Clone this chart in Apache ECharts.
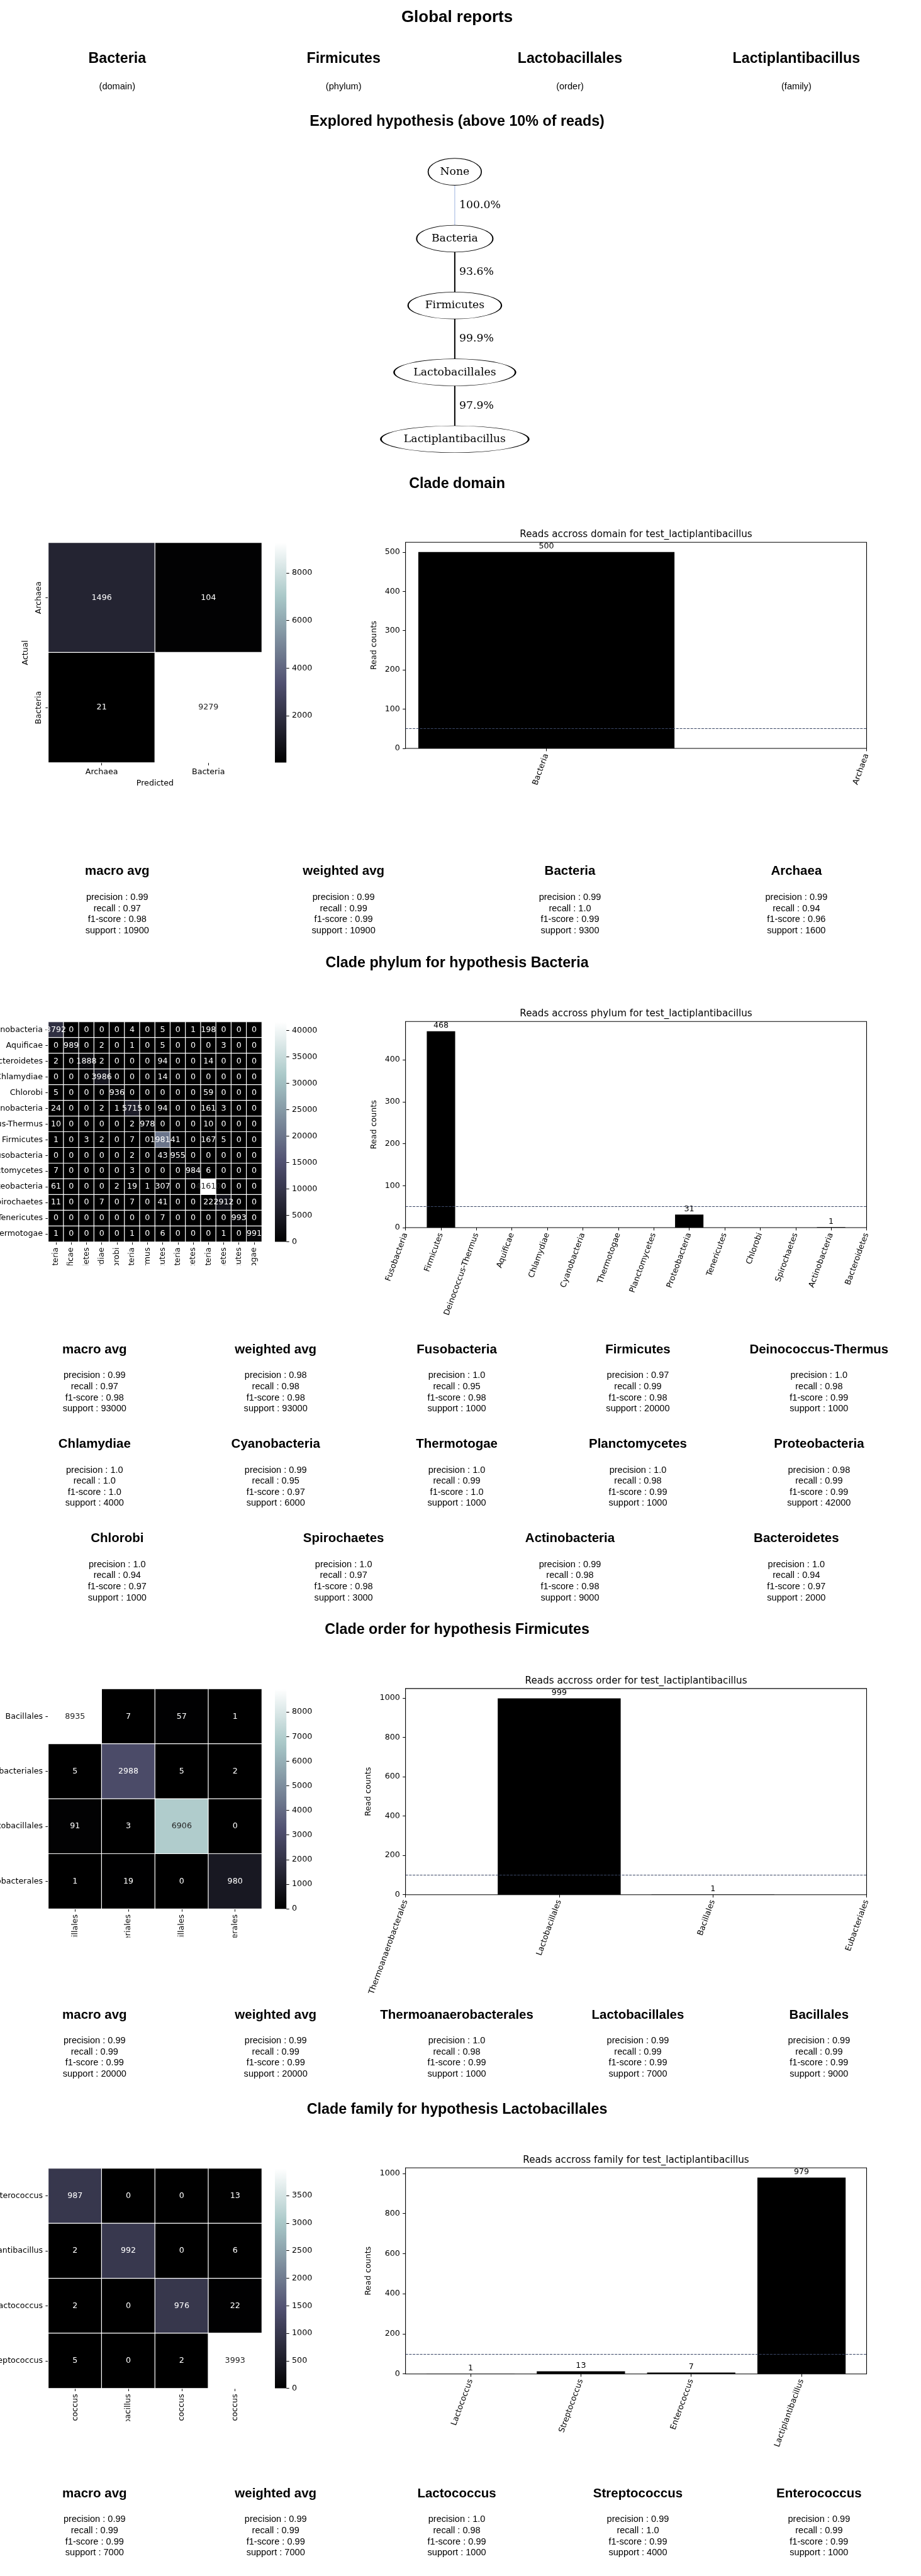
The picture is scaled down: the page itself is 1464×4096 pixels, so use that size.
<!DOCTYPE html>
<html>
<head>
<meta charset="utf-8">
<title>Global reports</title>
<script src="https://cdn.jsdelivr.net/npm/echarts@6.0.0/dist/echarts.min.js"></script>
<style>
  html, body { margin:0; padding:0; background:#ffffff; }
  #page { position:relative; width:1464px; height:4096px; overflow:hidden; background:#fff; }
  .chart { position:absolute; }
</style>
</head>
<body>
<div id="page">
  <div id="main" class="chart" style="left:0;top:0;width:1464px;height:4096px;"></div>
  <div id="hm0" class="chart"></div>
  <div id="hm1" class="chart"></div>
  <div id="hm2" class="chart"></div>
  <div id="hm3" class="chart"></div>
</div>
<script>
// ===================== DATA =====================
const globalTitle = 'Global reports';
const headerNames = ['Bacteria', 'Firmicutes', 'Lactobacillales', 'Lactiplantibacillus'];
const headerRanks = ['(domain)', '(phylum)', '(order)', '(family)'];
const hypothesisTitle = 'Explored hypothesis (above 10% of reads)';
const treeNodes = ['None', 'Bacteria', 'Firmicutes', 'Lactobacillales', 'Lactiplantibacillus'];
const treeEdgeLabels = ['100.0%', '93.6%', '99.9%', '97.9%'];
const sectionTitles = ['Clade domain', 'Clade phylum for hypothesis Bacteria', 'Clade order for hypothesis Firmicutes', 'Clade family for hypothesis Lactobacillales'];
const barTitles = ['Reads accross domain for test_lactiplantibacillus', 'Reads accross phylum for test_lactiplantibacillus', 'Reads accross order for test_lactiplantibacillus', 'Reads accross family for test_lactiplantibacillus'];
const barYName = 'Read counts';

// ---- domain ----
const domainLabels = ['Archaea', 'Bacteria'];
const domainMatrix = [[1496, 104], [21, 9279]];
const domainColorbarTicks = [2000, 4000, 6000, 8000];
const domainBarCats = ['Bacteria', 'Archaea'];
const domainBarVals = [500, 0];
const domainBarTicks = [0, 100, 200, 300, 400, 500];
const domainThreshold = 50;
const domainMetricNames = ['macro avg', 'weighted avg', 'Bacteria', 'Archaea'];
const domainPrecision = ['0.99', '0.99', '0.99', '0.99'];
const domainRecall = ['0.97', '0.99', '1.0', '0.94'];
const domainF1 = ['0.98', '0.99', '0.99', '0.96'];
const domainSupport = ['10900', '10900', '9300', '1600'];

// ---- phylum ----
const phylumLabels = ['Actinobacteria', 'Aquificae', 'Bacteroidetes', 'Chlamydiae', 'Chlorobi', 'Cyanobacteria', 'Deinococcus-Thermus', 'Firmicutes', 'Fusobacteria', 'Planctomycetes', 'Proteobacteria', 'Spirochaetes', 'Tenericutes', 'Thermotogae'];
const phylumMatrix = [
  [8792, 0, 0, 0, 0, 4, 0, 5, 0, 1, 198, 0, 0, 0],
  [0, 989, 0, 2, 0, 1, 0, 5, 0, 0, 0, 3, 0, 0],
  [2, 0, 1888, 2, 0, 0, 0, 94, 0, 0, 14, 0, 0, 0],
  [0, 0, 0, 3986, 0, 0, 0, 14, 0, 0, 0, 0, 0, 0],
  [5, 0, 0, 0, 936, 0, 0, 0, 0, 0, 59, 0, 0, 0],
  [24, 0, 0, 2, 1, 5715, 0, 94, 0, 0, 161, 3, 0, 0],
  [10, 0, 0, 0, 0, 2, 978, 0, 0, 0, 10, 0, 0, 0],
  [1, 0, 3, 2, 0, 7, 0, 19814, 1, 0, 167, 5, 0, 0],
  [0, 0, 0, 0, 0, 2, 0, 43, 955, 0, 0, 0, 0, 0],
  [7, 0, 0, 0, 0, 3, 0, 0, 0, 984, 6, 0, 0, 0],
  [61, 0, 0, 0, 2, 19, 1, 307, 0, 0, 41610, 0, 0, 0],
  [11, 0, 0, 7, 0, 7, 0, 41, 0, 0, 22, 2912, 0, 0],
  [0, 0, 0, 0, 0, 0, 0, 7, 0, 0, 0, 0, 993, 0],
  [1, 0, 0, 0, 0, 1, 0, 6, 0, 0, 0, 1, 0, 991]
];
const phylumColorbarTicks = [0, 5000, 10000, 15000, 20000, 25000, 30000, 35000, 40000];
const phylumBarCats = ['Fusobacteria', 'Firmicutes', 'Deinococcus-Thermus', 'Aquificae', 'Chlamydiae', 'Cyanobacteria', 'Thermotogae', 'Planctomycetes', 'Proteobacteria', 'Tenericutes', 'Chlorobi', 'Spirochaetes', 'Actinobacteria', 'Bacteroidetes'];
const phylumBarVals = [0, 468, 0, 0, 0, 0, 0, 0, 31, 0, 0, 0, 1, 0];
const phylumBarTicks = [0, 100, 200, 300, 400];
const phylumThreshold = 50;
const phylumMetricNames = ['macro avg', 'weighted avg', 'Fusobacteria', 'Firmicutes', 'Deinococcus-Thermus', 'Chlamydiae', 'Cyanobacteria', 'Thermotogae', 'Planctomycetes', 'Proteobacteria', 'Chlorobi', 'Spirochaetes', 'Actinobacteria', 'Bacteroidetes'];
const phylumPrecision = ['0.99', '0.98', '1.0', '0.97', '1.0', '1.0', '0.99', '1.0', '1.0', '0.98', '1.0', '1.0', '0.99', '1.0'];
const phylumRecall = ['0.97', '0.98', '0.95', '0.99', '0.98', '1.0', '0.95', '0.99', '0.98', '0.99', '0.94', '0.97', '0.98', '0.94'];
const phylumF1 = ['0.98', '0.98', '0.98', '0.98', '0.99', '1.0', '0.97', '1.0', '0.99', '0.99', '0.97', '0.98', '0.98', '0.97'];
const phylumSupport = ['93000', '93000', '1000', '20000', '1000', '4000', '6000', '1000', '1000', '42000', '1000', '3000', '9000', '2000'];

// ---- order ----
const orderLabels = ['Bacillales', 'Eubacteriales', 'Lactobacillales', 'Thermoanaerobacterales'];
const orderMatrix = [[8935, 7, 57, 1], [5, 2988, 5, 2], [91, 3, 6906, 0], [1, 19, 0, 980]];
const orderColorbarTicks = [0, 1000, 2000, 3000, 4000, 5000, 6000, 7000, 8000];
const orderBarCats = ['Thermoanaerobacterales', 'Lactobacillales', 'Bacillales', 'Eubacteriales'];
const orderBarVals = [0, 999, 1, 0];
const orderBarTicks = [0, 200, 400, 600, 800, 1000];
const orderThreshold = 100;
const orderMetricNames = ['macro avg', 'weighted avg', 'Thermoanaerobacterales', 'Lactobacillales', 'Bacillales'];
const orderPrecision = ['0.99', '0.99', '1.0', '0.99', '0.99'];
const orderRecall = ['0.99', '0.99', '0.98', '0.99', '0.99'];
const orderF1 = ['0.99', '0.99', '0.99', '0.99', '0.99'];
const orderSupport = ['20000', '20000', '1000', '7000', '9000'];

// ---- family ----
const familyLabels = ['Enterococcus', 'Lactiplantibacillus', 'Lactococcus', 'Streptococcus'];
const familyMatrix = [[987, 0, 0, 13], [2, 992, 0, 6], [2, 0, 976, 22], [5, 0, 2, 3993]];
const familyColorbarTicks = [0, 500, 1000, 1500, 2000, 2500, 3000, 3500];
const familyBarCats = ['Lactococcus', 'Streptococcus', 'Enterococcus', 'Lactiplantibacillus'];
const familyBarVals = [1, 13, 7, 979];
const familyBarTicks = [0, 200, 400, 600, 800, 1000];
const familyThreshold = 100;
const familyMetricNames = ['macro avg', 'weighted avg', 'Lactococcus', 'Streptococcus', 'Enterococcus'];
const familyPrecision = ['0.99', '0.99', '1.0', '0.99', '0.99'];
const familyRecall = ['0.99', '0.99', '0.98', '1.0', '0.99'];
const familyF1 = ['0.99', '0.99', '0.99', '0.99', '0.99'];
const familySupport = ['7000', '7000', '1000', '4000', '1000'];

// ===================== STYLE / LAYOUT =====================
const S = 1464 / 1608;
const px = v => v * S;
const SANS = 'DejaVu Sans';
const SERIF = 'DejaVu Serif';
const REPORT = '"Liberation Sans", Arial, Helvetica, sans-serif';
const FS = px(13.9);
const plain = v => String(Math.round(v));

// matplotlib "bone" colormap
function bone(t) {
  t = Math.max(0, Math.min(1, t));
  const a = 0.365079, b = 0.746032;
  const r = t < b ? t * 0.652778 / b : 0.652778 + (t - b) * (1 - 0.652778) / (1 - b);
  const g = t < a ? t * 0.319444 / a : (t < b ? 0.319444 + (t - a) * (0.777778 - 0.319444) / (b - a) : 0.777778 + (t - b) * (1 - 0.777778) / (1 - b));
  const bl = t < a ? t * 0.444444 / a : 0.444444 + (t - a) * (1 - 0.444444) / (1 - a);
  return [r, g, bl];
}
const toHex = c => '#' + c.map(v => Math.round(v * 255).toString(16).padStart(2, '0')).join('');
const BONE = Array.from({length: 51}, (_, i) => toHex(bone(i / 50)));
function annotColor(t) {
  const lin = bone(t).map(v => v <= 0.03928 ? v / 12.92 : Math.pow((v + 0.055) / 1.055, 2.4));
  const lum = 0.2126 * lin[0] + 0.7152 * lin[1] + 0.0722 * lin[2];
  return lum > 0.408 ? '#262626' : '#ffffff';
}
function boneGradient() {
  const stops = Array.from({length: 26}, (_, i) => ({offset: i / 25, color: toHex(bone(i / 25))}));
  return new echarts.graphic.LinearGradient(0, 1, 0, 0, stops);
}

// ===================== HEATMAPS =====================
const heatSets = [
  {labels: domainLabels, matrix: domainMatrix, ticks: domainColorbarTicks, clipTop: 880, clipBot: 1400, top: 948, xRot: 0, yRot: true, xName: 'Predicted', yName: 'Actual'},
  {labels: phylumLabels, matrix: phylumMatrix, ticks: phylumColorbarTicks, clipTop: 1740, clipBot: 2210, top: 1785, xRot: 90, yRot: false},
  {labels: orderLabels, matrix: orderMatrix, ticks: orderColorbarTicks, clipTop: 2900, clipBot: 3384, top: 2950, xRot: 90, yRot: false},
  {labels: familyLabels, matrix: familyMatrix, ticks: familyColorbarTicks, clipTop: 3720, clipBot: 4228, top: 3787, xRot: 90, yRot: false}
];

heatSets.forEach((c, k) => {
  const el = document.getElementById('hm' + k);
  el.style.left = '0px';
  el.style.top = px(c.clipTop) + 'px';
  el.style.width = px(560) + 'px';
  el.style.height = px(c.clipBot - c.clipTop) + 'px';
  const flat = c.matrix.flat();
  const mn = Math.min(...flat), mx = Math.max(...flat);
  const data = [];
  c.matrix.forEach((row, r) => row.forEach((v, col) => {
    data.push({value: [col, r, v], label: {color: annotColor((v - mn) / (mx - mn))}});
  }));
  const top = px(c.top - c.clipTop), H = px(384);
  const tick = {show: true, alignWithLabel: true, length: px(4.9), lineStyle: {color: '#000', width: px(1.1)}};
  const yLabel = c.yRot
    ? {interval: 0, rotate: 90, align: 'center', verticalAlign: 'bottom', fontSize: FS, fontFamily: SANS, color: '#000', margin: px(9.7)}
    : {interval: 0, fontSize: FS, fontFamily: SANS, color: '#000', margin: px(9.7)};
  const chart = echarts.init(el, null, {renderer: 'canvas'});
  chart.setOption({
    animation: false,
    textStyle: {fontFamily: SANS},
    grid: [
      {left: px(84.4), top: top, width: px(372.6), height: H, outerBoundsMode: 'none', containLabel: false},
      {left: px(480), top: top, width: px(20), height: H, show: true, borderWidth: 0, backgroundColor: boneGradient(), outerBoundsMode: 'none', containLabel: false}
    ],
    xAxis: [
      {type: 'category', gridIndex: 0, data: c.labels, axisLine: {show: false, onZero: false}, axisTick: tick,
       axisLabel: {interval: 0, rotate: c.xRot, fontSize: FS, fontFamily: SANS, color: '#000', margin: px(9.7)},
       splitLine: {show: false}, name: c.xName || '', nameLocation: 'middle', nameGap: px(28),
       nameTextStyle: {fontSize: FS, fontFamily: SANS, color: '#000'}},
      {type: 'value', gridIndex: 1, show: false, min: 0, max: 1}
    ],
    yAxis: [
      {type: 'category', gridIndex: 0, data: c.labels, inverse: true, axisLine: {show: false, onZero: false}, axisTick: tick,
       axisLabel: yLabel, splitLine: {show: false}, name: c.yName || '', nameLocation: 'middle', nameGap: px(32.5), nameRotate: 90,
       nameTextStyle: {fontSize: FS, fontFamily: SANS, color: '#000'}},
      {type: 'value', gridIndex: 1, position: 'right', min: mn, max: mx, axisLine: {show: false, onZero: false},
       axisTick: {show: true, customValues: c.ticks, length: px(4.9), lineStyle: {color: '#000', width: px(1.1)}},
       axisLabel: {customValues: c.ticks, formatter: plain, fontSize: FS, fontFamily: SANS, color: '#000', margin: px(9.7)},
       splitLine: {show: false}}
    ],
    visualMap: {show: false, type: 'continuous', min: mn, max: mx, dimension: 2, seriesIndex: 0, inRange: {color: BONE}},
    series: [{
      type: 'heatmap', xAxisIndex: 0, yAxisIndex: 0, data: data,
      label: {show: true, fontSize: FS, fontFamily: SANS},
      itemStyle: {borderColor: '#ffffff', borderWidth: px(1.3)},
      emphasis: {disabled: true}
    }]
  });
});

// ===================== MAIN (texts, tree, bars) =====================
const graphics = [];
function T(x, y, text, size, bold, family) {
  graphics.push({type: 'text', x: px(x), y: px(y), silent: true,
    style: {text: text, fill: '#000', font: (bold ? 'bold ' : '') + px(size).toFixed(2) + 'px ' + family,
      align: 'center', verticalAlign: 'middle', textAlign: 'center', textVerticalAlign: 'middle'}});
}
const COL0 = 7, COLW = 1581;
function colX(j, n) { return COL0 + (j + 0.5) * COLW / n; }

T(798, 31, globalTitle, 28.5, true, REPORT);
headerNames.forEach((h, j) => {
  T(colX(j, 4), 103, h, 25.5, true, REPORT);
  T(colX(j, 4), 152, headerRanks[j], 16, false, REPORT);
});
T(798, 213, hypothesisTitle, 25.6, true, REPORT);

const sectionTitleY = [845, 1682, 2847, 3684];
sectionTitles.forEach((s, i) => T(798, sectionTitleY[i], s, 25.6, true, REPORT));

function metrics(names, prec, rec, f1, sup, top) {
  for (let r = 0; r * 5 < names.length; r++) {
    const row = names.slice(r * 5, r * 5 + 5);
    const n = row.length;
    const y0 = top + r * 165;
    row.forEach((nm, j) => {
      const i = r * 5 + j;
      const cx = colX(j, n);
      T(cx, y0, nm, 22.5, true, REPORT);
      ['precision : ' + prec[i], 'recall : ' + rec[i], 'f1-score : ' + f1[i], 'support : ' + sup[i]]
        .forEach((t, q) => T(cx, y0 + 45.5 + q * 19.3, t, 16, false, REPORT));
    });
  }
}
metrics(domainMetricNames, domainPrecision, domainRecall, domainF1, domainSupport, 1522);
metrics(phylumMetricNames, phylumPrecision, phylumRecall, phylumF1, phylumSupport, 2357);
metrics(orderMetricNames, orderPrecision, orderRecall, orderF1, orderSupport, 3519);
metrics(familyMetricNames, familyPrecision, familyRecall, familyF1, familySupport, 4355);

// bar charts
const barSets = [
  {cats: domainBarCats, vals: domainBarVals, ticks: domainBarTicks, thr: domainThreshold, top: 947},
  {cats: phylumBarCats, vals: phylumBarVals, ticks: phylumBarTicks, thr: phylumThreshold, top: 1784},
  {cats: orderBarCats, vals: orderBarVals, ticks: orderBarTicks, thr: orderThreshold, top: 2949},
  {cats: familyBarCats, vals: familyBarVals, ticks: familyBarTicks, thr: familyThreshold, top: 3786}
];
// matplotlib-like view limits: bars of width 0.8, 5% margins, expanded to include every tick
function mplXlim(vals) {
  const nz = vals.map((v, i) => v > 0 ? i : -1).filter(i => i >= 0);
  let lo = Math.min(...nz) - 0.4, hi = Math.max(...nz) + 0.4;
  const m = (hi - lo) * 0.05;
  lo = Math.min(lo - m, 0); hi = Math.max(hi + m, vals.length - 1);
  return [lo, hi];
}
const grids = [], xAxes = [], yAxes = [], series = [];
const AX_L = 708, AX_W = 805, AX_H = 360;
barSets.forEach((b, g) => {
  const xl = mplXlim(b.vals);
  const ymax = Math.max(...b.vals) * 1.05;
  const idx = b.cats.map((_, i) => i);
  grids.push({left: px(AX_L), top: px(b.top), width: px(AX_W), height: px(AX_H), show: true,
    borderColor: '#000', borderWidth: px(1.2), backgroundColor: 'rgba(0,0,0,0)', outerBoundsMode: 'none', containLabel: false});
  xAxes.push({type: 'value', gridIndex: g, min: xl[0], max: xl[1], axisLine: {show: false, onZero: false},
    axisTick: {show: true, customValues: idx, length: px(4.9), lineStyle: {color: '#000', width: px(1.1)}},
    axisLabel: {customValues: idx, formatter: v => b.cats[Math.round(v)], rotate: 70, fontSize: FS, fontFamily: SANS, color: '#000', margin: px(9.7)},
    splitLine: {show: false}});
  yAxes.push({type: 'value', gridIndex: g, min: 0, max: ymax, axisLine: {show: false, onZero: false},
    axisTick: {show: true, customValues: b.ticks, length: px(4.9), lineStyle: {color: '#000', width: px(1.1)}},
    axisLabel: {customValues: b.ticks, formatter: plain, fontSize: FS, fontFamily: SANS, color: '#000', margin: px(9.7)},
    splitLine: {show: false}, name: barYName, nameLocation: 'middle', nameGap: px(43), nameRotate: 90,
    nameTextStyle: {fontSize: FS, fontFamily: SANS, color: '#000'}});
  series.push({type: 'bar', xAxisIndex: g, yAxisIndex: g, data: b.vals.map((v, i) => [i, v]),
    barWidth: 0.8 * px(AX_W) / (xl[1] - xl[0]), itemStyle: {color: '#000'},
    label: {show: true, position: 'top', distance: px(2.5), fontSize: FS, fontFamily: SANS, color: '#000',
      formatter: p => (p.value[1] > 0 ? String(p.value[1]) : '')},
    markLine: {silent: true, symbol: 'none', animation: false, label: {show: false},
      lineStyle: {type: [px(4.4), px(1.9)], color: '#3a4766', width: px(1.2)}, data: [{yAxis: b.thr}]},
    emphasis: {disabled: true}, z: 2});
  T(AX_L + AX_W / 2, b.top - 13.5, barTitles[g], 16.7, false, SANS);
});

// tree (explored hypothesis) drawn on a hidden cartesian grid: x fixed, y = depth
const TG = grids.length;
grids.push({left: px(594), top: px(300), width: px(400), height: px(467), show: false, outerBoundsMode: 'none', containLabel: false});
xAxes.push({type: 'value', gridIndex: TG, min: -1, max: 1, show: false});
yAxes.push({type: 'value', gridIndex: TG, min: 0, max: treeNodes.length - 1, inverse: true, show: false});
const nodeWidths = [93, 133, 163, 212, 258];
series.push({type: 'line', xAxisIndex: TG, yAxisIndex: TG, data: [[0, 0], [0, 1]], symbol: 'none',
  lineStyle: {color: '#a6b9e2', width: px(1.2)}, z: 2, silent: true});
series.push({type: 'line', xAxisIndex: TG, yAxisIndex: TG, data: treeNodes.slice(1).map((_, i) => [0, i + 1]), symbol: 'none',
  lineStyle: {color: '#000', width: px(2.2)}, z: 2, silent: true});
series.push({type: 'scatter', xAxisIndex: TG, yAxisIndex: TG, z: 5, silent: true,
  symbol: 'path://M0,50A50,50,0,1,1,100,50A50,50,0,1,1,0,50Z',
  data: treeNodes.map((n, i) => ({name: n, value: [0, i], symbolSize: [px(nodeWidths[i]), px(47)]})),
  itemStyle: {color: '#fff', borderColor: '#000', borderWidth: px(1.3), opacity: 1},
  label: {show: true, position: 'inside', formatter: '{b}', fontFamily: SERIF, fontSize: px(19), color: '#000', opacity: 1}});
series.push({type: 'scatter', xAxisIndex: TG, yAxisIndex: TG, z: 6, silent: true, symbolSize: 0,
  data: treeEdgeLabels.map((p, i) => ({name: p, value: [0, i + 0.5]})),
  itemStyle: {opacity: 1},
  label: {show: true, position: 'right', distance: px(7.7), formatter: '{b}', fontFamily: SERIF, fontSize: px(19), color: '#000', opacity: 1}});

const main = echarts.init(document.getElementById('main'), null, {renderer: 'canvas'});
main.setOption({
  animation: false,
  textStyle: {fontFamily: SANS},
  grid: grids, xAxis: xAxes, yAxis: yAxes, series: series,
  graphic: {elements: graphics}
});
</script>
</body>
</html>
